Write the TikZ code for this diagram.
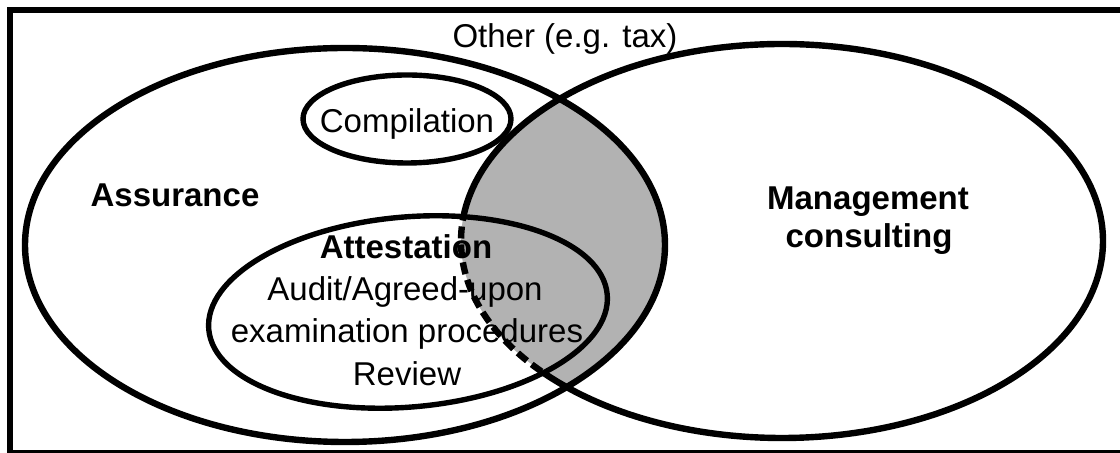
\documentclass[tikz,border=0pt]{standalone}
\usepackage{fontspec}
\setmainfont{Liberation Sans}
\definecolor{shadegray}{RGB}{178,178,178}
\begin{document}
\begin{tikzpicture}[x=0.5pt,y=-0.5pt,
  bigoutline/.style={line width=3.2pt},
  smalloutline/.style={line width=2.7pt},
  lbl/.style={font=\fontsize{16.5}{20}\selectfont, anchor=base, inner sep=0pt},
  blbl/.style={font=\fontsize{16.5}{20}\selectfont\bfseries, anchor=base, inner sep=0pt},
  leftell/.style={insert path={(L) ellipse [x radius=320, y radius=197]}},
  rightell/.style={insert path={(R) ellipse [x radius=321, y radius=197]}},
  attell/.style={insert path={(A) ellipse [x radius=200, y radius=95]}},
  compell/.style={insert path={(C) ellipse [x radius=104, y radius=44]}}]
\useasboundingbox (0,0) rectangle (1120,453);
\coordinate (L) at (345,245);
\coordinate (R) at (782,241);
\coordinate (A) at (408,312);
\coordinate (C) at (407,119);
% shaded overlap
\begin{scope}
  \clip[leftell];
  \fill[shadegray, rightell];
\end{scope}
% right ellipse solid
\draw[bigoutline, rightell];
% erase part inside attestation and restore shading
\begin{scope}
  \clip[rotate around={5:(A)}, attell];
  \draw[white, line width=4.5pt, rightell];
  \clip[leftell];
  \fill[shadegray, rightell];
\end{scope}
% dashed part
\begin{scope}
  \clip[rotate around={5:(A)}, attell];
  \draw[bigoutline, dash pattern=on 6pt off 3pt, rightell];
\end{scope}
\draw[bigoutline, leftell];
\draw[smalloutline, rotate around={5:(A)}, attell];
\draw[smalloutline, compell];
% frame
\draw[line width=3pt] (10,10) rectangle (1140,453);
% texts
\node[lbl] (other) at (565,48) {Other (e.g. tax)};
\node[blbl] (assur) at (175,207) {Assurance};
\node[blbl] (mgmt1) at (868,210) {Management};
\node[blbl] (mgmt2) at (869,248) {consulting};
\node[lbl] (comp) at (407,133) {Compilation};
\node[blbl] (att) at (406,259) {Attestation};
\node[lbl] (aud) at (405,301) {Audit/Agreed-upon};
\node[lbl] (exam) at (407,343) {examination procedures};
\node[lbl] (rev) at (407,386) {Review};
\end{tikzpicture}
\end{document}
